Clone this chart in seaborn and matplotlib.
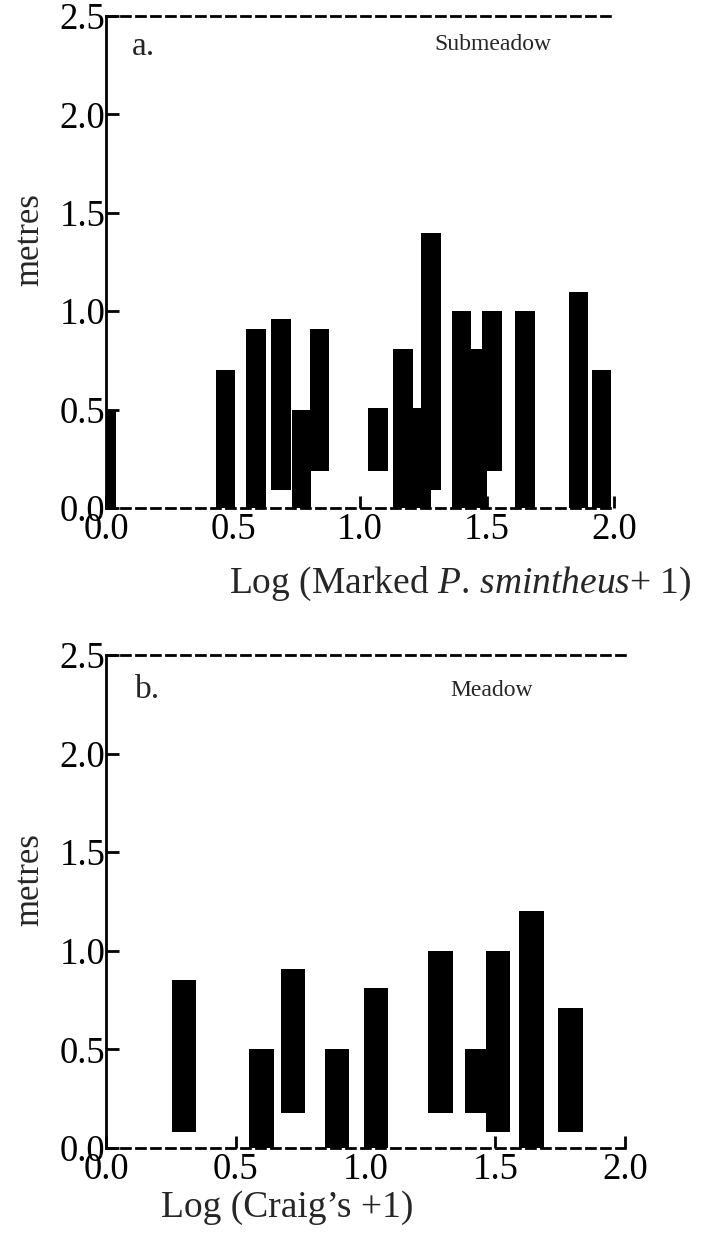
import numpy as np
import pandas as pd
import matplotlib
matplotlib.use("Agg")
import matplotlib.pyplot as plt
import seaborn as sns

# ---- data (x = log values, bars span from lo to hi metres) ----
sub_x = [0.00, 0.47, 0.59, 0.69, 0.77, 0.84, 1.07, 1.17, 1.24, 1.28, 1.40, 1.46, 1.52, 1.65, 1.86, 1.95]
sub_lo = [0.00, 0.00, 0.00, 0.09, 0.00, 0.19, 0.19, 0.00, 0.00, 0.09, 0.00, 0.00, 0.19, 0.00, 0.00, 0.00]
sub_hi = [0.50, 0.70, 0.91, 0.96, 0.50, 0.91, 0.51, 0.81, 0.51, 1.40, 1.00, 0.81, 1.00, 1.00, 1.10, 0.70]

mea_x = [0.30, 0.60, 0.72, 0.89, 1.04, 1.29, 1.43, 1.51, 1.64, 1.79]
mea_lo = [0.08, 0.00, 0.18, 0.00, 0.00, 0.18, 0.18, 0.08, 0.00, 0.08]
mea_hi = [0.85, 0.50, 0.91, 0.50, 0.81, 1.00, 0.50, 1.00, 1.20, 0.71]

yticks = [0.0, 0.5, 1.0, 1.5, 2.0, 2.5]
xticks = [0.0, 0.5, 1.0, 1.5, 2.0]

sns.set_theme(style="ticks")
plt.rcParams["font.family"] = ["Liberation Serif", "DejaVu Serif"]
plt.rcParams["mathtext.fontset"] = "custom"
plt.rcParams["mathtext.rm"] = "Liberation Serif"
plt.rcParams["mathtext.it"] = "Liberation Serif:italic"

W, H = 701, 1236
fig = plt.figure(figsize=(W / 100, H / 100), dpi=100)
ax1 = fig.add_axes([106 / W, 1 - 512 / H, (614 - 106) / W, (512 - 16) / H])
ax2 = fig.add_axes([106 / W, 1 - 1152 / H, (625 - 106) / W, (1152 - 655) / H])


def draw(ax, x, lo, hi, width):
    x = np.asarray(x, float)
    lo = np.asarray(lo, float)
    hi = np.asarray(hi, float)
    df = pd.DataFrame({"x": x, "h": hi - lo})
    nw = np.min(np.diff(np.unique(x)))
    sns.barplot(data=df, x="x", y="h", native_scale=True, width=width / nw,
                bottom=lo, color="black", saturation=1, errorbar=None,
                ax=ax, zorder=3, linewidth=0)
    ax.set_xlim(0, 2.0)
    ax.set_ylim(-0.02, 2.5)
    ax.set_xlabel("")
    ax.set_ylabel("")
    ax.spines["right"].set_visible(False)
    for s in ("top", "bottom"):
        ax.spines[s].set_linestyle((0, (3.2, 2.2)))
        ax.spines[s].set_linewidth(2)
        ax.spines[s].set_color("black")
    ax.spines["bottom"].set_position(("data", 0))
    ax.spines["left"].set_linewidth(2)
    ax.spines["left"].set_color("black")
    ax.spines["left"].set_bounds(0, 2.5)
    ax.set_yticks(yticks)
    ax.set_yticklabels([f"{v:.1f}" for v in yticks])
    ax.set_xticks(xticks)
    ax.set_xticklabels([f"{v:.1f}" for v in xticks])
    ax.tick_params(axis="y", direction="in", length=9.5, width=2, pad=0.5,
                   labelsize=26.5, color="black", labelcolor="black")
    ax.tick_params(axis="x", direction="in", length=8.5, width=2, pad=3,
                   labelsize=26.5, color="black", labelcolor="black")
    ax.set_facecolor("white")
    ax.patch.set_alpha(0)


draw(ax1, sub_x, sub_lo, sub_hi, 0.077)
draw(ax2, mea_x, mea_lo, mea_hi, 0.095)

fig.text(132 / W, 1 - 47 / H, "a.", fontsize=24, ha="left", va="center")
fig.text(434 / W, 1 - 45 / H, "Submeadow", fontsize=17, ha="left", va="center")
fig.text(135 / W, 1 - 690 / H, "b.", fontsize=24, ha="left", va="center")
fig.text(450 / W, 1 - 690 / H, "Meadow", fontsize=17, ha="left", va="center")

fig.text(30 / W, 1 - 240 / H, "metres", fontsize=25, rotation=90, ha="center", va="center")
fig.text(30 / W, 1 - 880 / H, "metres", fontsize=25, rotation=90, ha="center", va="center")

fig.text(460 / W, 1 - 584 / H, r"Log (Marked $\mathit{P.}\,\mathit{smintheus}$+ 1)",
         fontsize=27, ha="center", va="center")
fig.text(287 / W, 1 - 1208 / H, "Log (Craig\u2019s +1)", fontsize=27, ha="center", va="center")

fig.savefig("out.png", dpi=100)
